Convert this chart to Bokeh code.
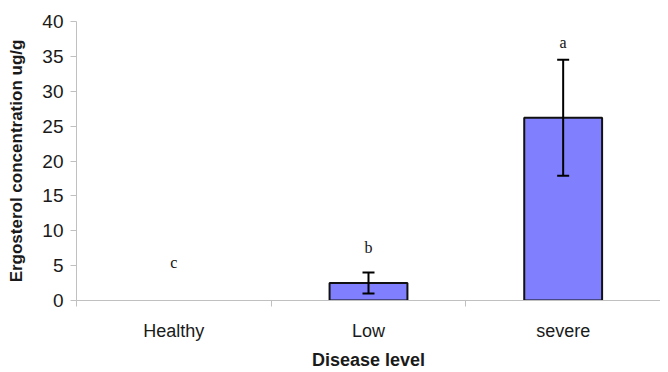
from bokeh.plotting import figure
from bokeh.models import ColumnDataSource, Range1d, FixedTicker, Whisker, TeeHead, LabelSet
from bokeh.embed import file_html
from bokeh.resources import INLINE

categories = ["Healthy", "Low", "severe"]
means = [0.0, 2.5, 26.2]
errors = [0.0, 1.5, 8.3]
letters = ["c", "b", "a"]
letter_heights = [5.4, 7.6, 37.0]
y_ticks = [0, 5, 10, 15, 20, 25, 30, 35, 40]

xs = [i + 0.5 for i in range(len(categories))]

p = figure(width=660, height=372, output_backend="svg", toolbar_location=None,
           x_range=Range1d(0, len(categories)), y_range=Range1d(0, 40),
           min_border_left=76, min_border_right=0, min_border_top=21, min_border_bottom=71)
p.outline_line_color = None
p.grid.visible = False
p.background_fill_color = "white"

bx = [x for x, m in zip(xs, means) if m > 0]
bm = [m for m in means if m > 0]
src = ColumnDataSource(dict(x=bx, top=bm))
p.vbar(x="x", top="top", bottom=0, width=0.4, source=src,
       fill_color="#8080ff", line_color="#111111", line_width=2)

ex = [x for x, e in zip(xs, errors) if e > 0]
em = [m for m, e in zip(means, errors) if e > 0]
ee = [e for e in errors if e > 0]
esrc = ColumnDataSource(dict(x=ex, upper=[m + e for m, e in zip(em, ee)],
                             lower=[m - e for m, e in zip(em, ee)]))
w = Whisker(base="x", upper="upper", lower="lower", source=esrc, dimension="height",
            line_color="black", line_width=2, level="overlay",
            upper_head=TeeHead(size=12, line_color="black", line_width=2),
            lower_head=TeeHead(size=12, line_color="black", line_width=2))
p.add_layout(w)

lsrc = ColumnDataSource(dict(x=xs, y=letter_heights, t=letters))
p.add_layout(LabelSet(x="x", y="y", text="t", source=lsrc, text_align="center",
                      text_baseline="middle", text_font="Liberation Serif",
                      text_font_size="16px", text_color="#111111"))

# x axis
xa = p.xaxis[0]
xa.ticker = FixedTicker(ticks=xs, minor_ticks=list(range(len(categories) + 1)))
xa.major_label_overrides = {x: c for x, c in zip(xs, categories)}
xa.major_tick_out = 0
xa.major_tick_in = 0
xa.minor_tick_out = 6
xa.minor_tick_in = 0
xa.minor_tick_line_color = "#c0c0c0"
xa.axis_line_color = "#c0c0c0"
xa.major_label_standoff = 14
xa.major_label_text_font = "Liberation Sans"
xa.major_label_text_font_size = "18px"
xa.major_label_text_color = "#1a1a1a"
xa.axis_label = "Disease level"
xa.axis_label_text_font = "Liberation Sans"
xa.axis_label_text_font_style = "bold"
xa.axis_label_text_font_size = "18px"
xa.axis_label_text_color = "#1a1a1a"
xa.axis_label_standoff = 6

# y axis
ya = p.yaxis[0]
ya.ticker = FixedTicker(ticks=y_ticks)
ya.minor_tick_line_color = None
ya.major_tick_out = 6
ya.major_tick_in = 0
ya.major_tick_line_color = "#c0c0c0"
ya.axis_line_color = "#c0c0c0"
ya.major_label_standoff = 7
ya.major_label_text_font = "Liberation Sans"
ya.major_label_text_font_size = "19px"
ya.major_label_text_color = "#1a1a1a"
ya.axis_label = "Ergosterol concentration ug/g"
ya.axis_label_text_font = "Liberation Sans"
ya.axis_label_text_font_style = "bold"
ya.axis_label_text_font_size = "17px"
ya.axis_label_text_color = "#1a1a1a"
ya.axis_label_standoff = 13

open("out.html", "w").write(file_html(p, INLINE))
